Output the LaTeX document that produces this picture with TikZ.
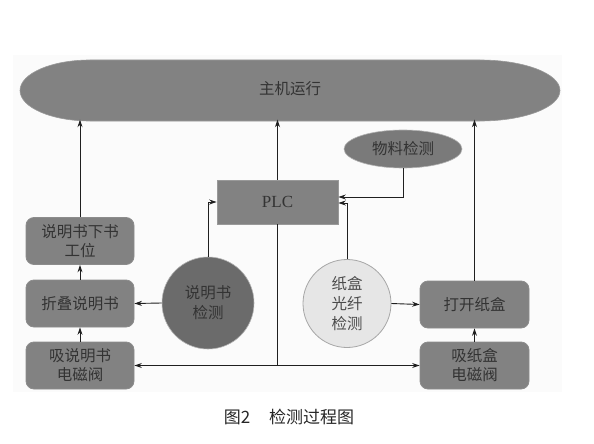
\documentclass[tikz,border=0pt]{standalone}
\usepackage{fontspec}
\setmainfont{Liberation Serif}
\newfontfamily\cjk{Noto Sans CJK SC}
\usetikzlibrary{arrows.meta,shapes.geometric}
\definecolor{boxgray}{HTML}{828282}
\definecolor{darkgray}{HTML}{6B6B6B}
\definecolor{lightc}{HTML}{E6E6E6}
\definecolor{txt}{HTML}{333333}
\begin{document}
\begin{tikzpicture}[x=1pt,y=-1pt,
  base/.style={font=\cjk\fontsize{15.5}{19}\selectfont, text=txt, align=center, inner sep=0pt},
  rbox/.style={base, rectangle, rounded corners=8pt, fill=boxgray, draw=black!45, line width=0.8pt, minimum width=108pt, minimum height=47pt},
  conn/.style={draw=black!88, line width=0.9pt},
  arr/.style={conn, -{Stealth[length=7.5pt,width=5pt]}}
]
\useasboundingbox (0,0) rectangle (594,444);
\fill[black!1.5] (13,55) rectangle (562,392);
% main shape
\draw[fill=boxgray, draw=black!40, line width=0.6pt] (90,60) -- (480,60) arc[start angle=90, end angle=-90, x radius=80pt, y radius=30.5pt] -- (90,121) arc[start angle=270, end angle=90, x radius=70pt, y radius=30.5pt] -- cycle;
\node[base, minimum width=540pt, minimum height=61pt] (main) at (290,89) {主机运行};
% PLC
\node[base, font=\fontsize{17}{19}\selectfont, fill=boxgray, draw=black!40, line width=0.6pt, minimum width=121pt, minimum height=44pt] (plc) at (277.5,202) {PLC};
% material detection ellipse
\node[base, ellipse, fill=darkgray!90, draw=black!30, line width=0.6pt, minimum width=118pt, minimum height=38pt] (wl) at (403,149) {物料检测};
% left boxes
\node[rbox] (lb1) at (80,241) {说明书下书\\工位};
\node[rbox] (lb2) at (80,303.5) {折叠说明书};
\node[rbox] (lb3) at (80,365.5) {吸说明书\\电磁阀};
% right boxes
\node[rbox, minimum width=109pt] (rb1) at (474.5,304.5) {打开纸盒};
\node[rbox, minimum width=109pt] (rb2) at (474.5,365.5) {吸纸盒\\电磁阀};
% circles
\node[base, circle, fill=darkgray, draw=black!30, line width=0.6pt, minimum size=92pt, font=\cjk\fontsize{15.5}{20}\selectfont] (c1) at (208,303) {说明书\\检测};
\node[base, circle, fill=lightc, draw=black!35, line width=0.8pt, minimum size=88pt, text=black!70, font=\cjk\fontsize{15.5}{20}\selectfont] (c2) at (347,303.5) {纸盒\\光纤\\检测};
% connectors to main
\draw[arr] (lb1.north) -- (lb1.north |- main.south);
\draw[arr] (plc.north) -- (plc.north |- main.south);
\draw[arr] (rb1.north) -- (rb1.north |- main.south);
% stack arrows
\draw[arr] (lb2.north) -- (lb1.south);
\draw[arr] (lb3.north) -- (lb2.south);
\draw[arr] (rb2.north) -- (rb1.south);
% detections
\draw[arr] (c1.west) -- (lb2.east);
\draw[arr] (c2.east) -- (rb1.west);
\draw[arr] (c1.north) |- (plc.west);
\draw[arr] (wl.south) |- ([yshift=5pt]plc.east);
\draw[arr] (c2.north) |- ([yshift=-1pt]plc.east);
% PLC outputs
\coordinate (j) at (plc.south |- lb3.east);
\draw[conn] (plc.south) -- (j);
\draw[arr] (j) -- (lb3.east);
\draw[arr] (j) -- (rb2.west);
% caption
\node[base, text=black!85, font=\cjk\fontsize{17}{19}\selectfont] (cap) at (289,417) {图2\hspace{1.1em}检测过程图};
\end{tikzpicture}
\end{document}
